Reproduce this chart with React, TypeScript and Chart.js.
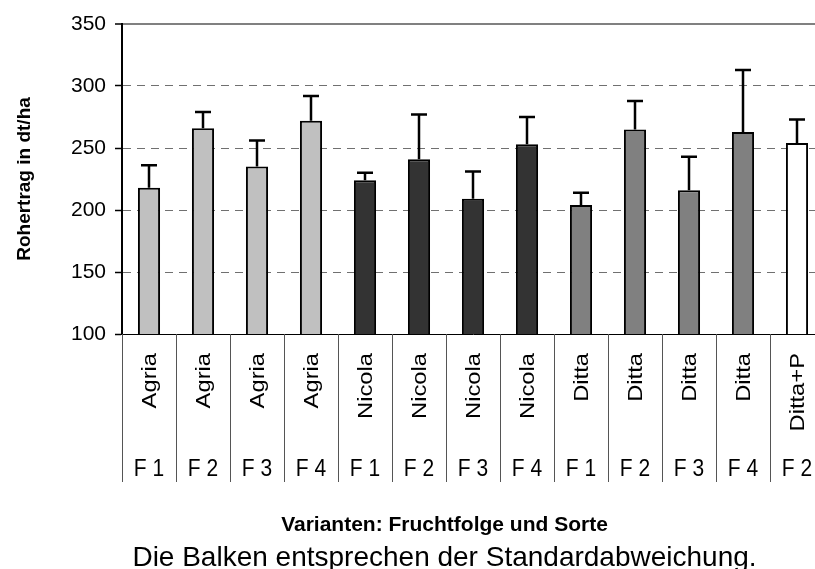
import React, { useEffect, useRef } from "react";
import { Chart, registerables } from "chart.js";

Chart.register(...registerables);

const varieties = ["Agria", "Agria", "Agria", "Agria", "Nicola", "Nicola", "Nicola", "Nicola", "Ditta", "Ditta", "Ditta", "Ditta", "Ditta+P"];
const rotations = ["F 1", "F 2", "F 3", "F 4", "F 1", "F 2", "F 3", "F 4", "F 1", "F 2", "F 3", "F 4", "F 2"];
const yieldMeans = [218, 266, 235, 272, 224, 241, 209, 253, 204, 265, 216, 263, 254];
const stdDevs = [18, 13, 21, 20, 6, 36, 22, 22, 10, 23, 27, 50, 19];
const yTicks = [100, 150, 200, 250, 300, 350];

const yTitle = "Rohertrag in dt/ha";
const xTitle = "Varianten: Fruchtfolge und Sorte";
const footnote = "Die Balken entsprechen der Standardabweichung.";

const varietyColors: Record<string, string> = {
  Agria: "#C0C0C0",
  Nicola: "#333333",
  Ditta: "#808080",
  "Ditta+P": "#FFFFFF",
};

const FONT = "'Liberation Sans', Arial, sans-serif";

export default function App() {
  const ref = useRef<HTMLCanvasElement | null>(null);

  useEffect(() => {
    if (!ref.current) return;

    const errorBars = {
      id: "errorBars",
      afterDatasetsDraw(chart: any) {
        const ctx = chart.ctx;
        const y = chart.scales.y;
        const meta = chart.getDatasetMeta(0);
        ctx.save();
        ctx.strokeStyle = "#000";
        ctx.lineWidth = 2.5;
        meta.data.forEach((bar: any, i: number) => {
          const x = bar.x;
          const yb = y.getPixelForValue(yieldMeans[i]);
          const yt = y.getPixelForValue(yieldMeans[i] + stdDevs[i]);
          ctx.beginPath();
          ctx.moveTo(x, yb);
          ctx.lineTo(x, yt);
          ctx.moveTo(x - 8, yt);
          ctx.lineTo(x + 8, yt);
          ctx.stroke();
        });
        ctx.restore();
      },
    };

    const labelsPlugin = {
      id: "labelsPlugin",
      afterDraw(chart: any) {
        const ctx = chart.ctx;
        const xs = chart.scales.x;
        const area = chart.chartArea;
        const half = (xs.getPixelForValue(1) - xs.getPixelForValue(0)) / 2;
        ctx.save();
        // separators
        ctx.strokeStyle = "#555";
        ctx.lineWidth = 1;
        for (let i = 0; i <= varieties.length; i++) {
          const bx = Math.round(xs.getPixelForValue(0) - half + i * 2 * half) + 0.5;
          ctx.beginPath();
          ctx.moveTo(bx, area.bottom);
          ctx.lineTo(bx, area.bottom + 148);
          ctx.stroke();
        }
        ctx.fillStyle = "#000";
        // variety names (rotated)
        ctx.font = `21px ${FONT}`;
        varieties.forEach((name, i) => {
          const cx = xs.getPixelForValue(i);
          ctx.save();
          ctx.translate(cx + 1, area.bottom + 19);
          ctx.rotate(-Math.PI / 2);
          ctx.scale(1.13, 1);
          ctx.textAlign = "right";
          ctx.textBaseline = "middle";
          ctx.fillText(name, 0, 0);
          ctx.restore();
        });
        // rotation labels
        ctx.textAlign = "center";
        ctx.textBaseline = "alphabetic";
        rotations.forEach((r, i) => {
          const cx = xs.getPixelForValue(i);
          ctx.save();
          ctx.translate(cx, area.bottom + 142);
          ctx.scale(1, 1.14);
          ctx.fillText(r, 0, 0);
          ctx.restore();
        });
        // y title
        ctx.save();
        ctx.font = `bold 19px ${FONT}`;
        ctx.translate(25, (area.top + area.bottom) / 2);
        ctx.rotate(-Math.PI / 2);
        ctx.textAlign = "center";
        ctx.textBaseline = "middle";
        ctx.fillText(yTitle, 0, 0);
        ctx.restore();
        // bottom titles
        ctx.font = `bold 21px ${FONT}`;
        ctx.textAlign = "center";
        ctx.fillText(xTitle, 444.5, 530.5);
        ctx.font = `28px ${FONT}`;
        ctx.fillText(footnote, 444.5, 566);
        ctx.restore();
      },
    };

    const chart = new Chart(ref.current, {
      type: "bar",
      data: {
        labels: varieties.map((v, i) => `${v} ${rotations[i]}`),
        datasets: [
          {
            data: yieldMeans,
            backgroundColor: varieties.map((v) => varietyColors[v]),
            borderColor: "#000",
            borderWidth: 2,
            barPercentage: 0.41,
            categoryPercentage: 1,
          },
        ],
      },
      options: {
        responsive: false,
        animation: false,
        devicePixelRatio: 1,
        layout: { padding: { top: 24, right: 6, left: 0, bottom: 0 } },
        plugins: { legend: { display: false }, tooltip: { enabled: false } },
        scales: {
          x: {
            type: "category",
            ticks: { display: false },
            grid: { display: false },
            border: { display: true, color: "#000", width: 1 },
            afterFit: (s: any) => {
              s.height = 235;
            },
          },
          y: {
            min: 100,
            max: 350,
            afterBuildTicks: (s: any) => {
              s.ticks = yTicks.map((v) => ({ value: v }));
            },
            ticks: {
              color: "#000",
              font: { family: FONT, size: 21 },
              padding: 9,
            },
            grid: {
              color: (c: any) =>
                c.tick && c.tick.value === 350 ? "#808080" : c.tick && c.tick.value === 100 ? "rgba(0,0,0,0)" : "#707070",
              lineWidth: (c: any) => (c.tick && c.tick.value === 350 ? 2 : 1),
              tickColor: "#000",
              tickWidth: 1.5,
              tickLength: 7,
              tickBorderDash: [],
              drawTicks: true,
            },
            border: {
              display: true,
              color: "#000",
              width: 2,
              dash: (c: any) =>
                c.type === "tick" && c.tick && c.tick.value > 100 && c.tick.value < 350 ? [8, 6] : [],
            },
            afterFit: (s: any) => {
              s.width = 122;
            },
          },
        },
      },
      plugins: [errorBars, labelsPlugin],
    });

    return () => chart.destroy();
  }, []);

  return (
    <div
      style={{
        position: "absolute",
        left: 0,
        top: 0,
        width: 815,
        height: 569,
        overflow: "hidden",
        background: "#fff",
      }}
    >
      <canvas ref={ref} width={830} height={569} style={{ width: 830, height: 569, display: "block" }} />
    </div>
  );
}
